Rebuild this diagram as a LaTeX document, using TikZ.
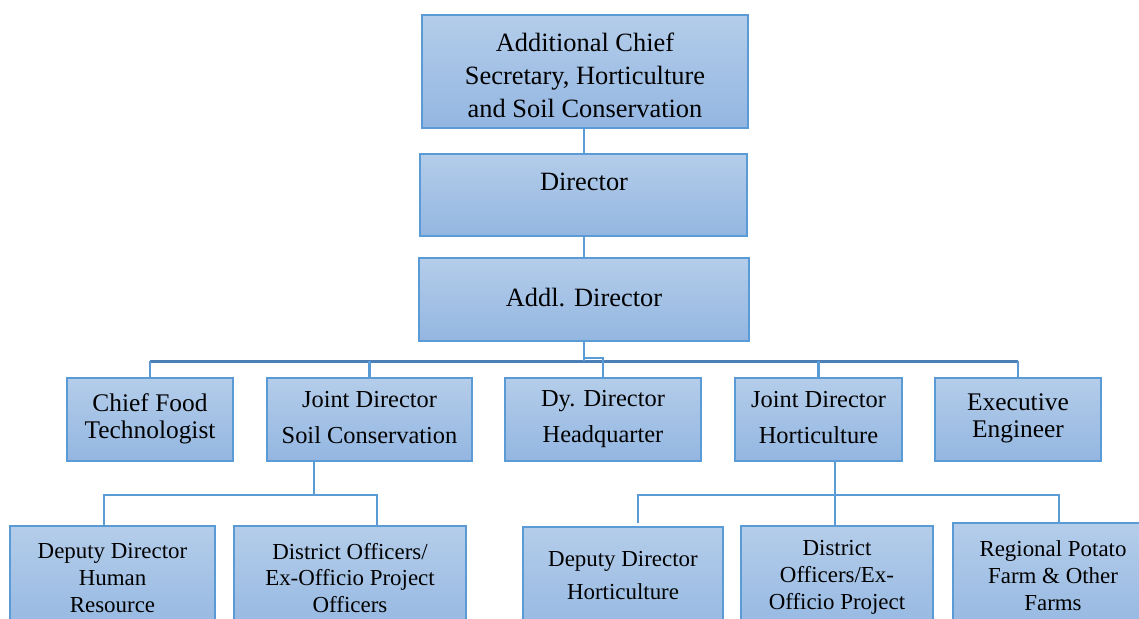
\documentclass[tikz,border=0pt]{standalone}
\usepackage{fontspec}
\setmainfont{Liberation Serif}
\usetikzlibrary{calc}
\definecolor{bordc}{HTML}{5B9BD5}
\definecolor{topc}{HTML}{B4CDEA}
\definecolor{botc}{HTML}{93B6E1}
\definecolor{barc}{HTML}{4C7FB6}
\tikzset{
  box/.style={draw=bordc, line width=1.4bp, top color=topc, bottom color=botc, inner sep=0pt},
  lbl/.style={align=center, inner sep=0pt, text=black},
  big/.style={font=\fontsize{26.5}{33}\selectfont},
  mid/.style={font=\fontsize{24.5}{37}\selectfont},
  midb/.style={font=\fontsize{25.5}{27}\selectfont},
  sml/.style={font=\fontsize{23}{27}\selectfont},
  conn/.style={draw=bordc, line width=2.5bp},
  mainbar/.style={draw=barc, line width=3bp},
}
\newcommand{\bx}[5]{\path[box] (#2,#3) rectangle (#4,#5) node[pos=0.5, inner sep=0pt] (#1) {};
  \coordinate (#1-n) at ({(#2+#4)/2},#3);
  \coordinate (#1-s) at ({(#2+#4)/2},#5);}
\begin{document}
\begin{tikzpicture}[x=1bp,y=-1bp]
\useasboundingbox (0,0) rectangle (1139,619);
\clip (0,0) rectangle (1139,619);
% boxes
\bx{acs}{422}{15}{748}{128}
\bx{dir}{420}{154}{747}{236}
\bx{addl}{419}{258}{749}{341}
\bx{cft}{67}{378}{233}{461}
\bx{jds}{267}{378}{472}{461}
\bx{dyd}{505}{378}{701}{461}
\bx{jdh}{735}{378}{902}{461}
\bx{exe}{935}{378}{1101}{461}
\bx{ddhr}{10}{526}{215}{640}
\bx{dohs}{234}{526}{466}{640}
\bx{ddh}{523}{527}{723}{640}
\bx{doh}{741}{526}{933}{640}
\bx{rpf}{953}{523}{1150}{640}
% texts
\node[lbl,big] (tacs) at (585,75) {Additional Chief\\Secretary, Horticulture\\and Soil Conservation};
\node[lbl,big] (tdir) at (584,182) {Director};
\node[lbl,big] (taddl) at (584,298) {Addl. Director};
\node[lbl,midb] (tcft) at (150,418.5) {Chief Food\\Technologist};
\node[lbl,mid] (tjds) at (369.5,417.5) {Joint Director\\Soil Conservation};
\node[lbl,mid] (tdyd) at (603,419) {Dy. Director\\Headquarter};
\node[lbl,mid] (tjdh) at (818.5,417.5) {Joint Director\\Horticulture};
\node[lbl,midb] (texe) at (1018,418.5) {Executive\\Engineer};
\node[lbl,sml] (tddhr) at (112.5,578) {Deputy Director\\Human\\Resource};
\node[lbl,sml] (tdohs) at (350,578) {District Officers/\\Ex-Officio Project\\Officers};
\node[lbl,font=\fontsize{23}{33}\selectfont] (tddh) at (623,575.5) {Deputy Director\\Horticulture};
\node[lbl,sml] (tdoh) at (837,577) {District\\Officers/Ex-\\Officio Project};
\node[lbl,sml] (trpf) at (1053,576) {Regional Potato\\Farm \& Other\\Farms};
% connectors top
\coordinate (trunk) at (584,0);
\draw[conn] (acs-s -| trunk) -- (dir-n -| trunk);
\draw[conn] (dir-s -| trunk) -- (addl-n -| trunk);
\coordinate (bar) at (584,361);
\draw[mainbar] (cft-n |- bar) -- (exe-n |- bar);
\draw[conn] (addl-s) -- (bar);
\draw[conn] (addl-s) |- ($(dyd-n)+(0,-20)$) -- (dyd-n);
\foreach \n in {cft,jds,jdh,exe}{\draw[conn] (\n-n) -- (\n-n |- bar);}
% left subtree
\coordinate (lb) at (314,495);
\coordinate (lb1) at (104,495);
\coordinate (lb2) at (377,495);
\draw[conn] (jds-s -| lb) -- (lb);
\draw[conn] (ddhr-n -| lb1) -- (lb1) -- (lb2) -- (dohs-n -| lb2);
% right subtree
\coordinate (rb) at (835,495);
\coordinate (rb1) at (638,495);
\coordinate (rb2) at (1059,495);
\draw[conn] (jdh-s -| rb) -- (doh-n -| rb);
\draw[conn] ($(ddh-n -| rb1)+(0,-4)$) -- (rb1) -- (rb2) -- ($(rpf-n -| rb2)+(0,-1)$);
\end{tikzpicture}
\end{document}
